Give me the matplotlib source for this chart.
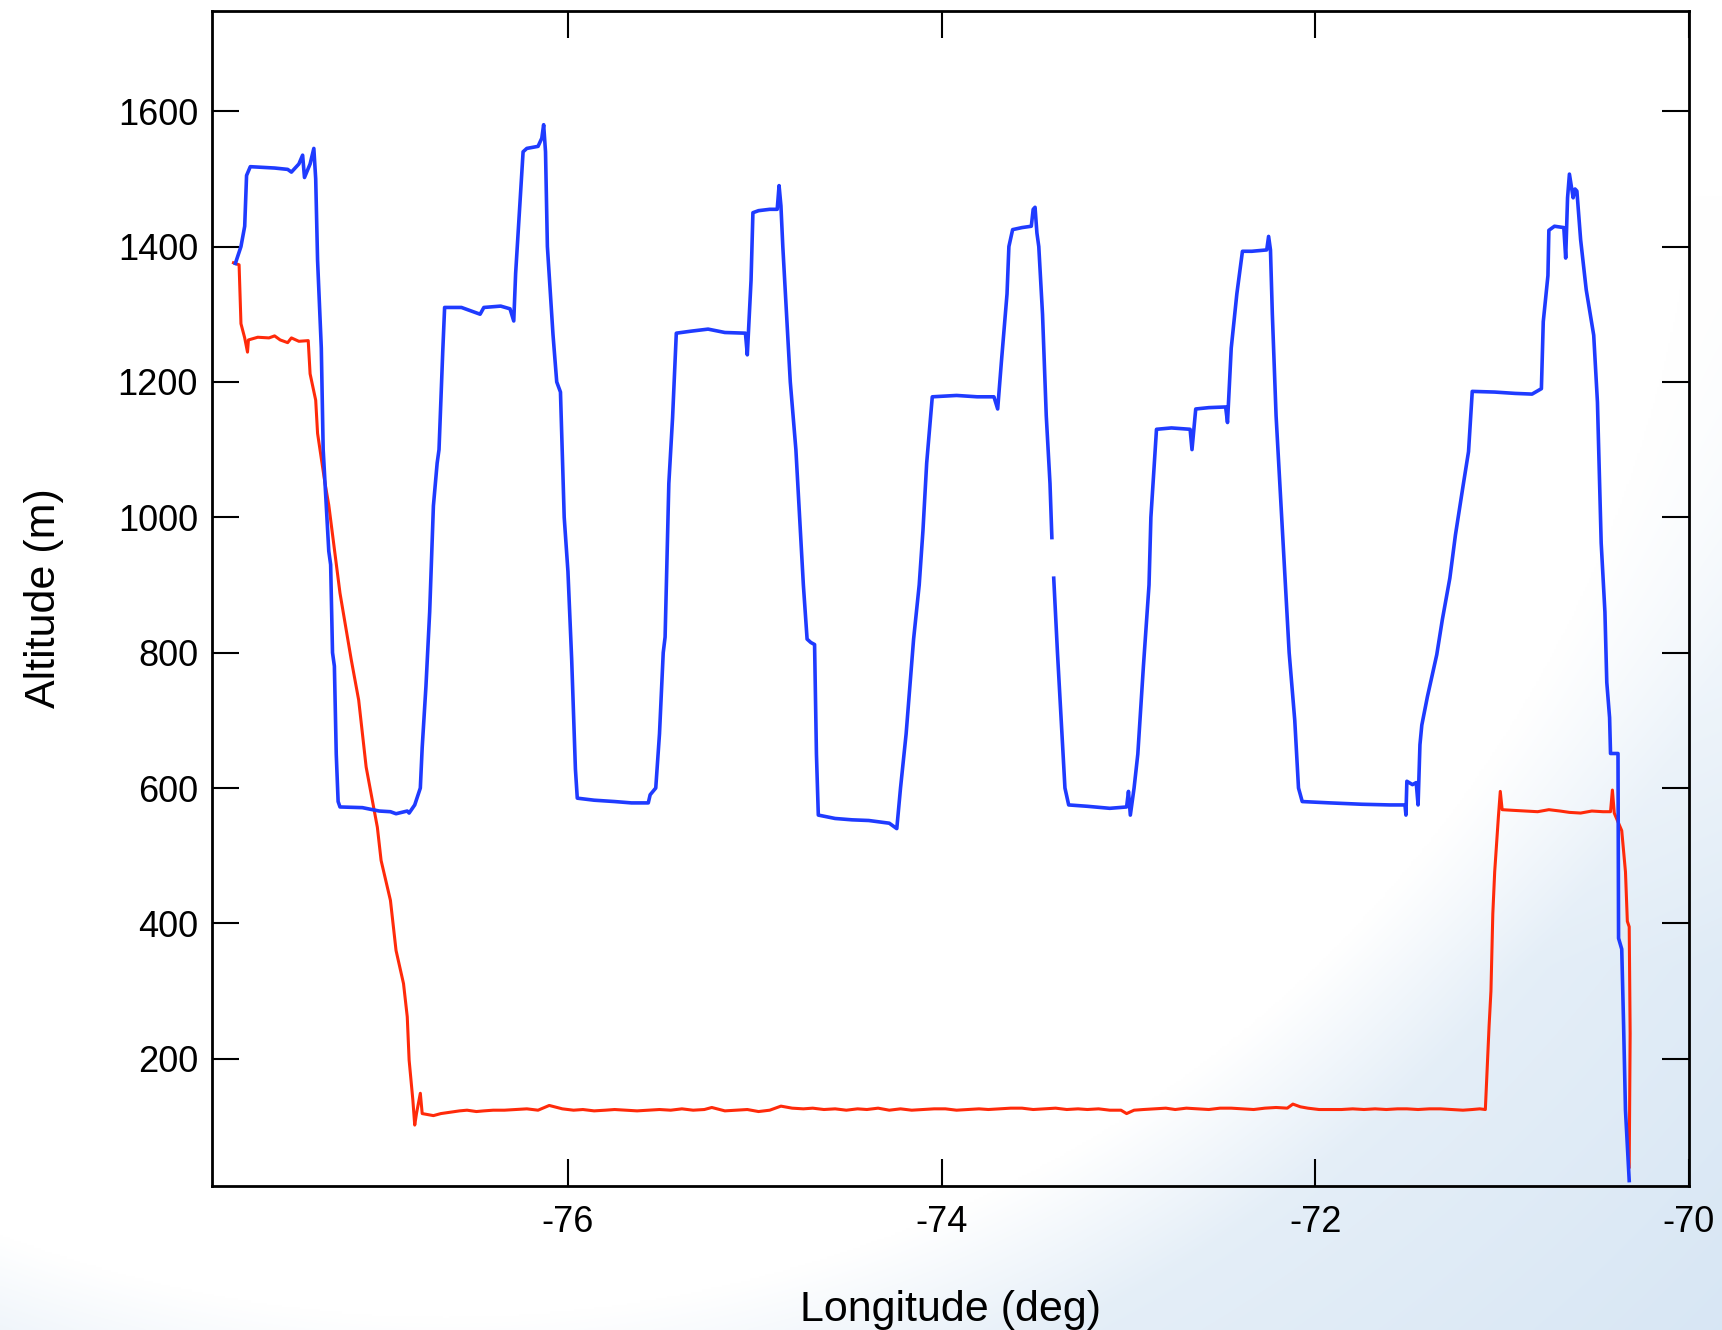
import numpy as np
import matplotlib
matplotlib.use("Agg")
import matplotlib.pyplot as plt

plt.rcParams['font.family'] = ['Liberation Sans', 'DejaVu Sans']

# ---------------- data ----------------
blue_lon = [-77.78, -77.75, -77.73, -77.72, -77.70, -77.63, -77.57, -77.50, -77.48, -77.44,
            -77.42, -77.41, -77.38, -77.36, -77.35, -77.34, -77.32, -77.31, -77.29, -77.28,
            -77.27, -77.26, -77.25, -77.24, -77.23, -77.22, -77.10, -77.01, -76.95, -76.92,
            -76.86, -76.85, -76.82, -76.79, -76.78, -76.76, -76.74, -76.72, -76.70, -76.69,
            -76.67, -76.66, -76.57, -76.47, -76.45, -76.36, -76.31, -76.29, -76.28, -76.26,
            -76.24, -76.22, -76.16, -76.14, -76.13, -76.12, -76.11, -76.08, -76.06, -76.04,
            -76.02, -76.00, -75.98, -75.96, -75.95, -75.86, -75.75, -75.66, -75.57, -75.56,
            -75.53, -75.51, -75.49, -75.48, -75.46, -75.44, -75.42, -75.34, -75.25, -75.16,
            -75.05, -75.04, -75.02, -75.01, -74.98, -74.92, -74.88, -74.87, -74.86, -74.85,
            -74.83, -74.81, -74.78, -74.76, -74.74, -74.72, -74.70, -74.68, -74.67, -74.66,
            -74.57, -74.48, -74.39, -74.28, -74.24, -74.22, -74.19, -74.17, -74.15, -74.12,
            -74.10, -74.08, -74.05, -73.92, -73.81, -73.72, -73.70, -73.68, -73.65, -73.64,
            -73.62, -73.57, -73.52, -73.51, -73.50, -73.49, -73.48, -73.46, -73.44, -73.42,
            -73.41, -73.405, -73.40, -73.38, -73.36, -73.34, -73.32, -73.22, -73.10, -73.01,
            -73.00, -72.99, -72.97, -72.95, -72.92, -72.89, -72.88, -72.85, -72.77, -72.67,
            -72.66, -72.64, -72.57, -72.48, -72.47, -72.45, -72.42, -72.39, -72.34, -72.26,
            -72.25, -72.24, -72.23, -72.21, -72.18, -72.16, -72.14, -72.11, -72.09, -72.07,
            -71.92, -71.75, -71.60, -71.52, -71.515, -71.51, -71.48, -71.46, -71.45, -71.44,
            -71.43, -71.40, -71.35, -71.32, -71.28, -71.25, -71.21, -71.18, -71.16, -71.04,
            -70.93, -70.84, -70.79, -70.78, -70.755, -70.75, -70.72, -70.67, -70.66, -70.65,
            -70.64, -70.62, -70.61, -70.60, -70.58, -70.55, -70.51, -70.49, -70.48, -70.47,
            -70.45, -70.44, -70.425, -70.42, -70.38, -70.377, -70.36, -70.35, -70.34, -70.32]
blue_alt = [1375, 1400, 1430, 1505, 1518, 1517, 1516, 1514, 1510, 1522,
            1535, 1502, 1522, 1545, 1500, 1380, 1250, 1100, 1000, 950,
            930, 800, 780, 650, 580, 572, 571, 566, 565, 562,
            566, 563, 575, 600, 660, 750, 860, 1017, 1080, 1100,
            1245, 1310, 1310, 1300, 1310, 1312, 1308, 1290, 1360, 1450,
            1540, 1545, 1548, 1560, 1580, 1540, 1400, 1270, 1200, 1185,
            1000, 920, 790, 628, 585, 582, 580, 578, 578, 590,
            600, 680, 800, 823, 1050, 1147, 1272, 1275, 1278, 1273,
            1272, 1240, 1350, 1450, 1453, 1455, 1455, 1490, 1460, 1400,
            1300, 1200, 1100, 1000, 900, 820, 815, 812, 650, 560,
            555, 553, 552, 548, 540, 600, 680, 750, 820, 900,
            980, 1080, 1178, 1180, 1178, 1178, 1160, 1230, 1330, 1400,
            1425, 1428, 1430, 1455, 1458, 1420, 1400, 1300, 1150, 1050,
            970, np.nan, 910, 800, 700, 600, 575, 573, 570, 572,
            595, 560, 600, 650, 780, 900, 1000, 1130, 1132, 1130,
            1100, 1160, 1162, 1163, 1140, 1250, 1330, 1393, 1393, 1395,
            1415, 1395, 1300, 1150, 1000, 900, 800, 700, 600, 580,
            578, 576, 575, 575, 560, 610, 605, 608, 575, 664,
            693, 735, 797, 849, 910, 974, 1045, 1097, 1186, 1185,
            1183, 1182, 1190, 1289, 1357, 1424, 1430, 1428, 1383, 1472,
            1507, 1472, 1485, 1482, 1410, 1336, 1269, 1170, 1066, 962,
            860, 756, 704, 651, 651, 378, 362, 249, 124, 20]

red_lon = [-77.79, -77.76, -77.755, -77.75, -77.73, -77.715, -77.71, -77.66, -77.60, -77.57,
           -77.54, -77.50, -77.48, -77.44, -77.39, -77.38, -77.35, -77.34, -77.30, -77.28,
           -77.25, -77.22, -77.19, -77.16, -77.12, -77.08, -77.02, -77.00, -76.95, -76.92,
           -76.88, -76.86, -76.85, -76.83, -76.82, -76.81, -76.79, -76.78, -76.72, -76.68,
           -76.63, -76.58, -76.54, -76.49, -76.45, -76.40, -76.34, -76.28, -76.22, -76.16,
           -76.10, -76.03, -75.97, -75.92, -75.86, -75.80, -75.75, -75.69, -75.63, -75.57,
           -75.51, -75.45, -75.39, -75.33, -75.27, -75.23, -75.16, -75.10, -75.04, -74.98,
           -74.92, -74.86, -74.80, -74.74, -74.69, -74.63, -74.57, -74.51, -74.45, -74.40,
           -74.34, -74.28, -74.22, -74.16, -74.10, -74.04, -73.98, -73.92, -73.86, -73.80,
           -73.75, -73.69, -73.63, -73.57, -73.51, -73.45, -73.39, -73.33, -73.27, -73.22,
           -73.16, -73.10, -73.04, -73.01, -72.97, -72.92, -72.86, -72.80, -72.75, -72.69,
           -72.63, -72.57, -72.51, -72.45, -72.39, -72.33, -72.27, -72.21, -72.15, -72.12,
           -72.08, -72.04, -71.98, -71.92, -71.86, -71.80, -71.74, -71.68, -71.62, -71.56,
           -71.51, -71.45, -71.39, -71.33, -71.27, -71.21, -71.16, -71.12, -71.09, -71.07,
           -71.06, -71.05, -71.04, -71.02, -71.01, -71.00, -70.94, -70.87, -70.81, -70.75,
           -70.69, -70.64, -70.58, -70.52, -70.46, -70.42, -70.41, -70.40, -70.36, -70.34,
           -70.33, -70.32, -70.315, -70.32]
red_alt = [1376, 1373, 1330, 1286, 1265, 1244, 1262, 1266, 1265, 1268,
           1262, 1258, 1265, 1260, 1261, 1212, 1173, 1124, 1050, 1018,
           953, 888, 839, 790, 730, 631, 542, 493, 434, 360,
           311, 262, 198, 139, 102, 120, 149, 119, 116, 119,
           121, 123, 124, 122, 123, 124, 124, 125, 126, 124,
           131, 126, 124, 125, 123, 124, 125, 124, 123, 124,
           125, 124, 126, 124, 125, 128, 123, 124, 125, 122,
           124, 130, 127, 126, 127, 125, 126, 124, 126, 125,
           127, 124, 126, 124, 125, 126, 126, 124, 125, 126,
           125, 126, 127, 127, 125, 126, 127, 125, 126, 125,
           126, 124, 124, 119, 124, 125, 126, 127, 125, 127,
           126, 125, 127, 127, 126, 125, 127, 128, 127, 133,
           129, 127, 125, 125, 125, 126, 125, 126, 125, 126,
           126, 125, 126, 126, 125, 124, 125, 126, 125, 248,
           300, 414, 476, 558, 595, 568, 567, 566, 565, 568,
           566, 564, 563, 566, 565, 565, 597, 563, 537, 476,
           403, 395, 237, 40]

x_ticks = [-76, -74, -72, -70]
y_ticks = [200, 400, 600, 800, 1000, 1200, 1400, 1600]

# ---------------- figure ----------------
W, H = 1722, 1330
fig = plt.figure(figsize=(W / 100, H / 100), dpi=100)
fig.patch.set_facecolor('white')

# slide background swoosh (decoration only)
bg = fig.add_axes([0, 0, 1, 1], zorder=-10)
gx, gy = np.meshgrid(np.linspace(0, 1568, 784), np.linspace(0, 1211, 606))
d = np.hypot(gx - 406, gy - 56)
out = d - 1145
w = 0.5 * np.clip(out / 140, 0, 1) + 0.5 * np.clip(out / 600, 0, 1)
w = w * np.clip((gy - 180) / 700, 0, 1)
blue = np.array([212, 228, 243]) / 255.0
img = (1 - w[..., None]) * np.ones(3) + w[..., None] * blue
bg.imshow(img, extent=[0, 1, 0, 1], aspect='auto', origin='upper', interpolation='bilinear')
bg.set_axis_off()

ax = fig.add_axes([212 / W, 1 - 1186 / H, (1689 - 212) / W, (1186 - 11) / H])
ax.set_facecolor('none')

ax.plot(red_lon, red_alt, color='#ff2a0a', lw=2.2, zorder=3)
ax.plot(blue_lon, blue_alt, color='#1f3bff', lw=2.6, zorder=4)

ax.set_xlim(-77.905, -70)
ax.set_ylim(12, 1748)
ax.set_xticks(x_ticks)
ax.set_xticklabels([str(t) for t in x_ticks])
ax.set_yticks(y_ticks)
ax.set_yticklabels([str(t) for t in y_ticks])

ax.tick_params(axis='both', direction='in', length=19.5, width=1.5, color='black',
               labelsize=26, top=True, right=True)
ax.tick_params(axis='x', pad=14)
ax.tick_params(axis='y', pad=10)
for s in ax.spines.values():
    s.set_linewidth(2.0)
    s.set_color('black')

ax.set_xlabel('Longitude (deg)', fontsize=31)
ax.xaxis.set_label_coords(0.5, -0.1149)
ax.xaxis.label.set_verticalalignment('baseline')
ax.set_ylabel('Altitude (m)', fontsize=31)
ax.yaxis.set_label_coords(-0.1063, 0.5)
ax.yaxis.label.set_verticalalignment('baseline')

fig.savefig('out.png', dpi=100)
